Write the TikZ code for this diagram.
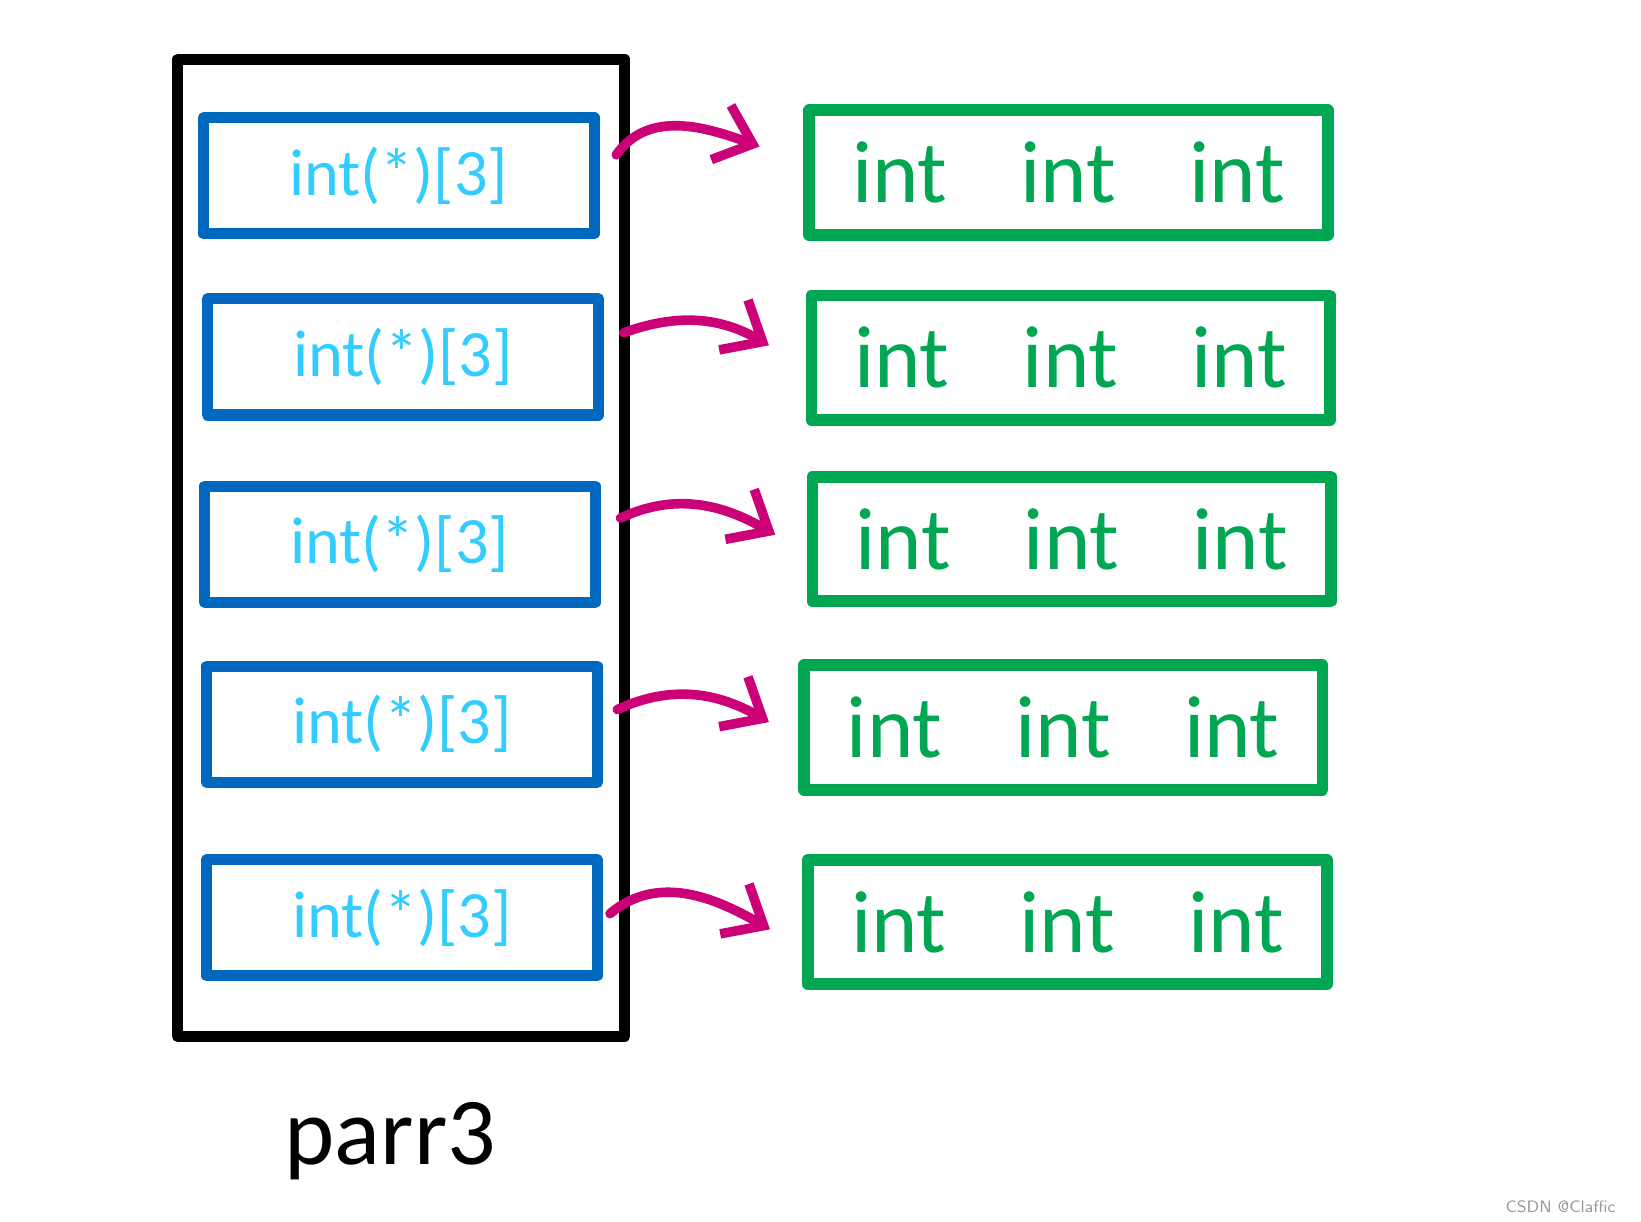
\documentclass[tikz,border=0pt]{standalone}
\usepackage{fontspec}
\setmainfont{Carlito}
\usetikzlibrary{arrows.meta,positioning}

\definecolor{ptrblue}{HTML}{0068BE}
\definecolor{ptrtext}{HTML}{33CCFF}
\definecolor{arrgreen}{HTML}{00A651}
\definecolor{linkpink}{HTML}{CC0077}
\definecolor{markgray}{HTML}{999999}

\begin{document}
\begin{tikzpicture}[
    x=0.01cm, y=0.01cm,
    holder/.style={draw=black, line width=3pt, line join=round, minimum width=4.27cm, minimum height=9.33cm},
    pointer/.style={draw=ptrblue, line width=3pt, line join=round, minimum width=3.73cm, minimum height=1.11cm, text=ptrtext, font=\fontsize{18}{22}\selectfont},
    row/.style={draw=arrgreen, line width=3.2pt, line join=round, minimum width=4.95cm, minimum height=1.19cm, text=arrgreen, font=\fontsize{24}{28}\selectfont},
    link/.style={-{Straight Barb[length=3.2mm, width=5.5mm]}, draw=linkpink, line width=2.6pt, line cap=round}
]
    \useasboundingbox (0,0) rectangle (1568,-1167);

    % the pointer array
    \node[holder] (parr) at (383.5,-523.5) {};
    \node[pointer] (ptr1) at (381,-168) {int(*)[3]};
    \node[pointer] (ptr2) at (385,-341) {int(*)[3]};
    \node[pointer] (ptr3) at (382,-520) {int(*)[3]};
    \node[pointer] (ptr4) at (384,-692) {int(*)[3]};
    \node[pointer] (ptr5) at (384,-877) {int(*)[3]};

    % the rows it points to
    \newcommand{\threeints}{int\hspace{0.7cm}int\hspace{0.7cm}int}
    \node[row] (arr1) at (1021,-165) {\threeints};
    \node[row] (arr2) at (1023,-342) {\threeints};
    \node[row] (arr3) at (1024,-515) {\threeints};
    \node[row] (arr4) at (1016,-695) {\threeints};
    \node[row] (arr5) at (1020,-881) {\threeints};

    % arrows
    \draw[link] ([shift={(16,20)}]ptr1.east) to[out=55,in=160] ([shift={(-42,25)}]arr1.west);
    \draw[link] ([shift={(19,23)}]ptr2.east) to[out=20,in=150] ([shift={(-35,12)}]arr2.west);
    \draw[link] ([shift={(19,25)}]ptr3.east) to[out=25,in=150] ([shift={(-30,4)}]arr3.west);
    \draw[link] ([shift={(14,14)}]ptr4.east) to[out=25,in=150] ([shift={(-28,5)}]arr4.west);
    \draw[link] ([shift={(7,4)}]ptr5.east) to[out=40,in=150] ([shift={(-31,-7)}]arr5.west);

    % labels
    \node[font=\fontsize{26}{30}\selectfont] (name) at (373,-1090) {parr3};
    \node[anchor=east, text=markgray, font=\fontsize{4.5}{5}\selectfont\sffamily] (mark) at (1556,-1153) {CSDN @Claffic};
\end{tikzpicture}
\end{document}
